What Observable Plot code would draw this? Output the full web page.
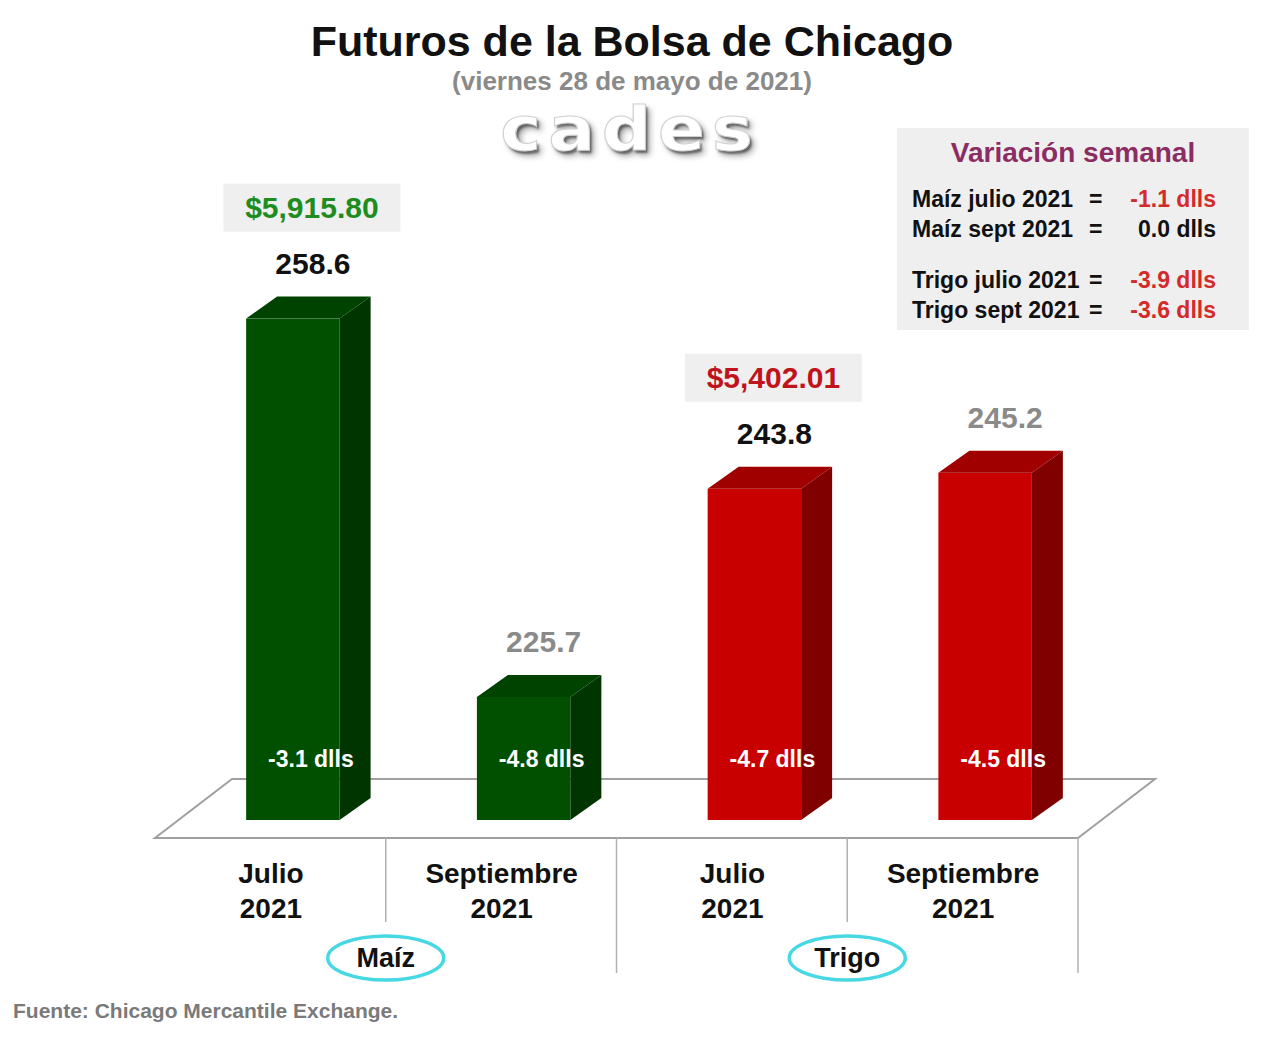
<!DOCTYPE html>
<html lang="es">
<head>
<meta charset="utf-8">
<title>Futuros de la Bolsa de Chicago</title>
<script src="https://cdn.jsdelivr.net/npm/d3@7"></script>
<script src="https://cdn.jsdelivr.net/npm/@observablehq/plot@0.6"></script>
<style>
  body { margin: 0; background: #fff; font-family: "Liberation Sans", Arial, sans-serif; }
  #page { position: relative; width: 1280px; height: 1038px; overflow: hidden; background: #fff; }
  #chart { position: absolute; left: 0; top: 100px; width: 1280px; }
  #titulo { position: absolute; left: -8px; width: 1280px; top: 20px; text-align: center;
            font-size: 43px; line-height: 43px; font-weight: bold; color: #111; }
  #subtitulo { position: absolute; left: -8px; width: 1280px; top: 68px; text-align: center;
               font-size: 26px; line-height: 26px; font-weight: bold; color: #8a8a8a; }
  #logo { position: absolute; left: -10px; width: 1280px; top: 99px; text-align: center;
          font-family: "DejaVu Sans", sans-serif; font-weight: bold; font-size: 60px; line-height: 60px;
          letter-spacing: 6px; color: #fff; transform: scaleX(1.15);
          -webkit-text-stroke: 1px #d0d0d0;
          text-shadow: 2px 3px 2px rgba(0,0,0,0.45), 4px 5px 6px rgba(0,0,0,0.35); }
  #variacion { position: absolute; left: 897px; top: 128px; width: 352px; height: 202px; background: #efefef; }
  #variacion .vtitulo { position: absolute; left: 0; width: 352px; top: 11px; text-align: center;
                        font-size: 28px; line-height: 28px; font-weight: bold; color: #8b2d62; }
  #variacion .fila { position: absolute; left: 0; width: 352px; font-size: 23px; line-height: 23px; font-weight: bold; color: #111; }
  #variacion .fila span { position: absolute; top: 0; white-space: nowrap; }
  #fuente { position: absolute; left: 13px; top: 1000px; font-size: 21px; line-height: 21px; font-weight: bold; color: #7a7a7a; }
</style>
</head>
<body>
<div id="page">
  <div id="chart"></div>
  <div id="titulo">Futuros de la Bolsa de Chicago</div>
  <div id="subtitulo">(viernes 28 de mayo de 2021)</div>
  <div id="logo">cades</div>
  <div id="variacion"><div class="vtitulo">Variación semanal</div></div>
  <div id="fuente">Fuente: Chicago Mercantile Exchange.</div>
</div>
<script>
// Contratos de futuros (dólares por tonelada)
const grupos = ["Maíz", "Maíz", "Trigo", "Trigo"];
const meses = ["Julio", "Septiembre", "Julio", "Septiembre"];
const anios = ["2021", "2021", "2021", "2021"];
const precios = [258.6, 225.7, 243.8, 245.2];
const cambios = [-3.1, -4.8, -4.7, -4.5];
const montos = [5915.80, null, 5402.01, null];

// Variación semanal por contrato
const variacionEtiquetas = ["Maíz julio 2021", "Maíz sept 2021", "Trigo julio 2021", "Trigo sept 2021"];
const variacionValores = [-1.1, 0.0, -3.9, -3.6];

const paleta = {
  "Maíz":  {frente: "#005000", lado: "#003500", techo: "#004200", monto: "#1e8c1e"},
  "Trigo": {frente: "#c80000", lado: "#800000", techo: "#a00000", monto: "#c0141c"}
};

const filas = grupos.map((g, i) => ({
  clave: `${g} · ${meses[i]}`,
  grupo: g, mes: meses[i], anio: anios[i],
  precio: precios[i], cambio: cambios[i], monto: montos[i]
}));
const claves = filas.map(d => d.clave);

// Geometría del gráfico
const W = 1280, H = 890;
const mL = 155, mR = 202, mT = 87.5, mB = 170;
const bw = (W - mL - mR) / claves.length;
const base = 215, techoEje = 270;
const frenteIzq = 0.395, frenteDer = 0.8;    // cara frontal dentro de la banda
const prof = {dx: 31, dy: 22};               // profundidad de las barras
const piso = {baja: 18, dx: 77, dy: 59};     // plano del suelo
const fuente = "Liberation Sans, Arial, sans-serif";
const fmtMonto = d3.format("$,.2f");

// Suelo, separadores, etiquetas de grupo y recuadros de montos
function decorado(index, scales) {
  const {x, y} = scales;
  const g = d3.create("svg:g");
  const x0 = x(claves[0]), x1 = x(claves[claves.length - 1]) + bw;
  const yf = y(base) + piso.baja, yb = yf - piso.dy;
  g.append("path")
    .attr("d", `M${x0},${yf}H${x1}L${x1 + piso.dx},${yb}H${x0 + piso.dx}Z`)
    .attr("fill", "none").attr("stroke", "#a0a0a0").attr("stroke-width", 2);
  filas.forEach((d, i) => {
    const xs = x(d.clave) + bw;
    const fin = i === filas.length - 1 || filas[i + 1].grupo !== d.grupo;
    g.append("line")
      .attr("x1", xs).attr("x2", xs).attr("y1", yf).attr("y2", yf + (fin ? 135 : 84))
      .attr("stroke", "#b0b0b0").attr("stroke-width", 1.5);
  });
  for (const grupo of new Set(grupos)) {
    const propias = filas.filter(d => d.grupo === grupo);
    const cx = (x(propias[0].clave) + x(propias[propias.length - 1].clave) + bw) / 2;
    const cy = yf + 120;
    g.append("ellipse").attr("cx", cx).attr("cy", cy).attr("rx", 58).attr("ry", 22)
      .attr("fill", "#fff").attr("stroke", "#48d8e4").attr("stroke-width", 3.5);
    g.append("text").attr("x", cx).attr("y", cy).attr("dy", "0.35em")
      .attr("text-anchor", "middle").attr("font-family", fuente)
      .attr("font-size", 27).attr("font-weight", "bold").attr("fill", "#111")
      .text(grupo);
  }
  for (const d of filas) {
    if (d.monto == null) continue;
    const cx = x(d.clave) + bw / 2 + 41, cy = y(d.precio) - 111;
    g.append("rect").attr("x", cx - 88).attr("y", cy - 24).attr("width", 177).attr("height", 48)
      .attr("fill", "#efefef");
  }
  return g.node();
}

// Caras lateral y superior de cada barra
function caras(index, scales) {
  const {x, y} = scales;
  const g = d3.create("svg:g");
  for (const d of filas) {
    const a = x(d.clave) + bw * frenteIzq, b = x(d.clave) + bw * frenteDer;
    const yt = y(d.precio), yb = y(base);
    const c = paleta[d.grupo];
    g.append("path")
      .attr("d", `M${b},${yt}L${b + prof.dx},${yt - prof.dy}L${b + prof.dx},${yb - prof.dy}L${b},${yb}Z`)
      .attr("fill", c.lado);
    g.append("path")
      .attr("d", `M${a},${yt}L${a + prof.dx},${yt - prof.dy}L${b + prof.dx},${yt - prof.dy}L${b},${yt}Z`)
      .attr("fill", c.techo);
  }
  return g.node();
}

const chart = Plot.plot({
  width: W, height: H,
  marginLeft: mL, marginRight: mR, marginTop: mT, marginBottom: mB,
  x: {type: "band", domain: claves, padding: 0, round: false, axis: null},
  y: {domain: [base, techoEje], axis: null},
  color: {type: "identity"},
  style: {fontFamily: fuente, background: "transparent", overflow: "visible"},
  marks: [
    decorado,
    Plot.barY(filas, {
      x: "clave", y1: base, y2: "precio",
      fill: d => paleta[d.grupo].frente,
      insetLeft: bw * frenteIzq, insetRight: bw * (1 - frenteDer)
    }),
    caras,
    Plot.text(filas, {
      x: "clave", y: "precio", text: d => d.precio.toFixed(1),
      dx: 42, dy: -55, fontSize: 30, fontWeight: "bold",
      fill: d => d.mes === "Julio" ? "#111" : "#8a8a8a"
    }),
    Plot.text(filas.filter(d => d.monto != null), {
      x: "clave", y: "precio", text: d => fmtMonto(d.monto),
      dx: 41, dy: -111, fontSize: 30, fontWeight: "bold",
      fill: d => paleta[d.grupo].monto
    }),
    Plot.text(filas, {
      x: "clave", frameAnchor: "bottom", text: d => `${d.cambio.toFixed(1)} dlls`,
      dx: 40, dy: -54, fontSize: 23, fontWeight: "bold", fill: "#fff"
    }),
    Plot.text(filas, {
      x: "clave", frameAnchor: "bottom", text: d => `${d.mes}\n${d.anio}`,
      dy: 97, lineHeight: 1.24, fontSize: 28, fontWeight: "bold", fill: "#111"
    })
  ]
});
document.getElementById("chart").append(chart);

// Recuadro de variación semanal
const caja = d3.select("#variacion");
variacionEtiquetas.forEach((etq, i) => {
  const salto = grupos[i] !== grupos[0] ? 21 : 0;
  const fila = caja.append("div").attr("class", "fila").style("top", `${60 + i * 30 + salto}px`);
  fila.append("span").style("left", "15px").text(etq);
  fila.append("span").style("left", "192px").text("=");
  const v = variacionValores[i];
  fila.append("span").style("right", "33px")
    .style("color", v < 0 ? "#d42a2a" : "#111")
    .text(`${v.toFixed(1)} dlls`);
});
</script>
</body>
</html>
